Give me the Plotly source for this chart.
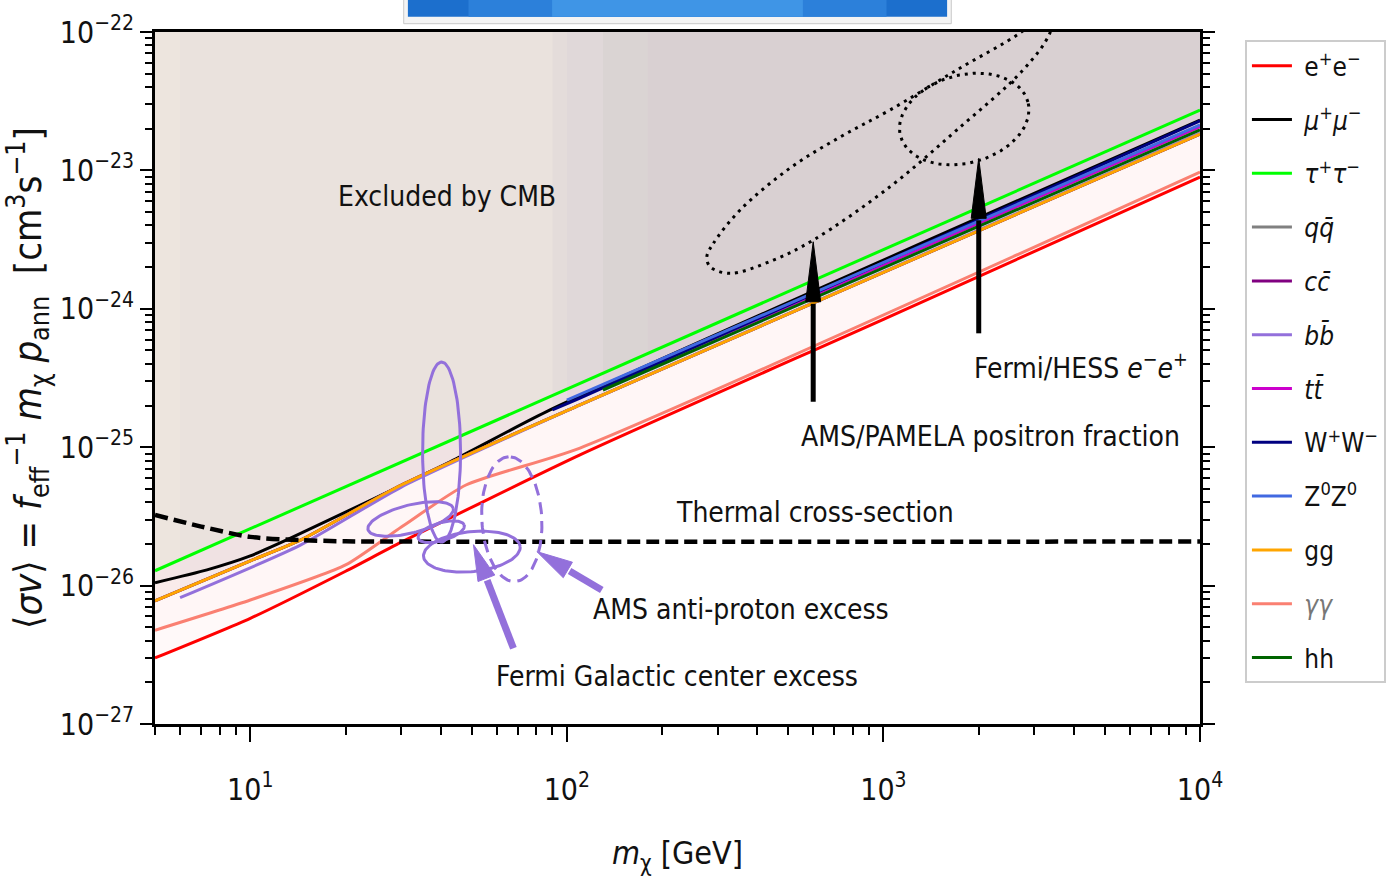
import math
import plotly.graph_objects as go

# ---------------- data (mass in GeV, <sigma v> in cm^3 s^-1) ----------------
ee_m = [5, 10, 20, 30, 110, 1000, 10000]
ee_v = [3.0e-27, 5.8e-27, 1.27e-26, 2.06e-26, 8.8e-26, 8.4e-25, 8.96e-24]

mumu_m = [5, 7.3, 10, 13.4, 42.8, 88.5, 10000]
mumu_v = [1.05e-26, 1.30e-26, 1.64e-26, 2.20e-26, 7.85e-26, 1.86e-25, 2.31e-23]

tautau_m = [5, 10000]
tautau_v = [1.28e-26, 2.73e-23]

qq_m = [5, 10, 14.4, 30, 110, 10000]
qq_v = [7.75e-27, 1.51e-26, 2.13e-26, 5.33e-26, 2.02e-25, 1.83e-23]

cc_m = [5, 10, 14.4, 30, 110, 10000]
cc_v = [7.75e-27, 1.51e-26, 2.13e-26, 5.33e-26, 2.02e-25, 1.83e-23]

bb_m = [6, 14.4, 30, 110, 10000]
bb_v = [8.18e-27, 1.96e-26, 5.15e-26, 2.02e-25, 1.86e-23]

tt_m = [180, 10000]
tt_v = [3.75e-25, 2.07e-23]

ww_m = [90, 110, 10000]
ww_v = [1.86e-25, 2.26e-25, 2.28e-23]

zz_m = [100, 10000]
zz_v = [2.19e-25, 2.13e-23]

gg_m = [5, 10, 14.4, 30, 110, 10000]
gg_v = [7.75e-27, 1.51e-26, 2.13e-26, 5.33e-26, 2.02e-25, 1.83e-23]

aa_m = [5, 10, 20, 30, 48, 110, 10000]
aa_v = [4.76e-27, 7.87e-27, 1.41e-26, 2.65e-26, 5.33e-26, 9.86e-26, 9.72e-24]

hh_m = [130, 10000]
hh_v = [2.59e-25, 1.96e-23]

thermal_m = [5, 7, 10, 14.4, 20, 30, 10000]
thermal_v = [3.24e-26, 2.67e-26, 2.25e-26, 2.13e-26, 2.09e-26, 2.08e-26, 2.08e-26]

channel_names = ["e<sup>+</sup>e<sup>−</sup>",
                 "<i>μ</i><sup>+</sup><i>μ</i><sup>−</sup>",
                 "<i>τ</i><sup>+</sup><i>τ</i><sup>−</sup>",
                 "<i>q</i><i>q̄</i>",
                 "<i>c</i><i>c̄</i>",
                 "<i>b</i><i>b̄</i>",
                 "<i>t</i><i>t̄</i>",
                 "W<sup>+</sup>W<sup>−</sup>",
                 "Z<sup>0</sup>Z<sup>0</sup>",
                 "gg",
                 "<span style='color:#777'><i>γγ</i></span>",
                 "hh"]
channel_colors = ["#ff0000", "#000000", "#00ff00", "#808080", "#800080", "#9370db",
                  "#cc00cc", "#000080", "#4169e1", "#ffa500", "#fa8072", "#006400"]
channel_m = [ee_m, mumu_m, tautau_m, qq_m, cc_m, bb_m, tt_m, ww_m, zz_m, gg_m, aa_m, hh_m]
channel_v = [ee_v, mumu_v, tautau_v, qq_v, cc_v, bb_v, tt_v, ww_v, zz_v, gg_v, aa_v, hh_v]

# Fermi GC excess regions (solid) and AMS antiproton (dashed): centre mass, centre <sv>,
# semi-axes (screen px), tilt (deg)
gc_ell_m = [40.2, 32.1, 40.1, 50.1]
gc_ell_v = [9.23e-26, 3.03e-26, 2.45e-26, 1.76e-26]
gc_ell_a = [19, 44, 24, 48.6]
gc_ell_b = [90, 14, 9, 20]
gc_ell_ang = [0, 14, 16, 6]

pbar_ell = (67.0, 3.02e-26, 62.5, 30, 93)

# Fermi/HESS e-e+ region (ellipse) and AMS/PAMELA positron fraction region (contour points)
hess_ell = (1800, 2.35e-23, 66, 44, 15)
pam_m = [276.8, 290.4, 352.6, 507.3, 729.5, 1049, 1704, 2700, 3483,
         3357, 2759, 1704, 1049, 600.6, 449.2, 327.8, 283.5, 276.8]
pam_v = [2.378e-24, 2.973e-24, 5.175e-24, 1.041e-23, 1.742e-23, 2.732e-23, 5.314e-23, 9.83e-23, 1.57e-22,
         9.83e-23, 5.31e-23, 1.958e-23, 7.62e-24, 3.14e-24, 2.25e-24, 1.805e-24, 2.014e-24, 2.378e-24]

# ---------------- geometry helpers ----------------
PXX = 316.7   # px per decade in x
PXY = 138.4   # px per decade in y
YTOP = 1e-22


def ellipse(mc, vc, a, b, ang, n=120):
    th = math.radians(ang)
    xs, ys = [], []
    for i in range(n + 1):
        t = 2 * math.pi * i / n
        dx = a * math.cos(t) * math.cos(th) - b * math.sin(t) * math.sin(th)
        dy = a * math.cos(t) * math.sin(th) + b * math.sin(t) * math.cos(th)
        xs.append(mc * 10 ** (dx / PXX))
        ys.append(vc * 10 ** (dy / PXY))
    return xs, ys


def arrow(tip, tail, head_len, head_half):
    tx, ty = math.log10(tip[0]) * PXX, math.log10(tip[1]) * PXY
    sx, sy = math.log10(tail[0]) * PXX, math.log10(tail[1]) * PXY
    L = math.hypot(sx - tx, sy - ty)
    ux, uy = (sx - tx) / L, (sy - ty) / L
    nx, ny = -uy, ux
    bx, by = tx + ux * head_len, ty + uy * head_len
    f = lambda px, py: (10 ** (px / PXX), 10 ** (py / PXY))
    base = f(bx + ux * 2, by + uy * 2)
    p1 = f(bx + nx * head_half, by + ny * head_half)
    p2 = f(bx - nx * head_half, by - ny * head_half)
    shaft = ([tail[0], base[0]], [tail[1], base[1]])
    head = ([tip[0], p1[0], p2[0], tip[0]], [tip[1], p1[1], p2[1], tip[1]])
    return shaft, head


def rgba(hexc, a):
    h = hexc.lstrip("#")
    return "rgba(%d,%d,%d,%.3f)" % (int(h[0:2], 16), int(h[2:4], 16), int(h[4:6], 16), a)


FONT = "DejaVu Sans Condensed, DejaVu Sans, sans-serif"
fig = go.Figure()

# exclusion fills (stacked, translucent)
for m, v, c in zip(channel_m, channel_v, channel_colors):
    fig.add_trace(go.Scatter(x=m + m[::-1], y=v + [YTOP] * len(m), fill="toself",
                             fillcolor=rgba(c, 0.022), line=dict(width=0), mode="lines",
                             showlegend=False, hoverinfo="skip"))

# channel lines
for name, m, v, c in zip(channel_names, channel_m, channel_v, channel_colors):
    fig.add_trace(go.Scatter(x=m, y=v, mode="lines", name="\u00a0" + name, legendgroup=name,
                             line=dict(color=c, width=3, shape="spline", smoothing=0.6)))

# thermal cross-section
fig.add_trace(go.Scatter(x=thermal_m, y=thermal_v, mode="lines", showlegend=False,
                         line=dict(color="black", width=4.5, dash="13px,6px",
                                   shape="spline", smoothing=0.8)))

# Fermi GC ellipses
PURPLE = "#9370db"
for mc, vc, a, b, ang in zip(gc_ell_m, gc_ell_v, gc_ell_a, gc_ell_b, gc_ell_ang):
    ex, ey = ellipse(mc, vc, a, b, ang)
    fig.add_trace(go.Scatter(x=ex, y=ey, mode="lines", showlegend=False,
                             line=dict(color=PURPLE, width=3)))
ex, ey = ellipse(*pbar_ell)
fig.add_trace(go.Scatter(x=ex, y=ey, mode="lines", showlegend=False,
                         line=dict(color=PURPLE, width=3, dash="12px,7px")))

# dotted positron regions
ex, ey = ellipse(*hess_ell)
fig.add_trace(go.Scatter(x=ex, y=ey, mode="lines", showlegend=False,
                         line=dict(color="black", width=3, dash="3px,5px")))
fig.add_trace(go.Scatter(x=pam_m, y=pam_v, mode="lines", showlegend=False,
                         line=dict(color="black", width=3, dash="3px,5px", shape="spline")))

# arrows: (tip, tail, colour, shaft width, head length px, head half-width px)
arrows = [((600, 3.05e-24), (600, 2.13e-25), "black", 5, 60, 7.5),
          ((2000, 1.223e-23), (2000, 6.65e-25), "black", 5, 60, 7.5),
          ((80.4, 1.76e-26), (128.9, 9.29e-27), PURPLE, 7, 36, 9),
          ((50.7, 1.975e-26), (67.8, 3.52e-27), PURPLE, 7, 36, 9)]
for tip, tail, col, w, hl, hw in arrows:
    shaft, head = arrow(tip, tail, hl, hw)
    fig.add_trace(go.Scatter(x=shaft[0], y=shaft[1], mode="lines", showlegend=False,
                             line=dict(color=col, width=w)))
    fig.add_trace(go.Scatter(x=head[0], y=head[1], mode="lines", fill="toself", fillcolor=col,
                             showlegend=False, line=dict(color=col, width=1)))

# text annotations (x, y in log10 units)
TXT = dict(size=28, color="#111", family=FONT)
notes = [("Excluded by CMB", 1.622, -23.19, "center"),
         ("Fermi/HESS <i>e</i><sup>−</sup><i>e</i><sup>+</sup>", 3.968, -24.42, "right"),
         ("AMS/PAMELA positron fraction", 3.943, -24.92, "right"),
         ("Thermal cross-section", 2.784, -25.475, "center"),
         ("AMS anti-proton excess", 2.549, -26.176, "center"),
         ("Fermi Galactic center excess", 2.348, -26.66, "center")]
for t, x, y, anc in notes:
    fig.add_annotation(text=t, x=x, y=y, xref="x", yref="y", showarrow=False,
                       xanchor=anc, yanchor="middle", font=TXT)

# header strip at the top of the picture
fig.add_shape(type="rect", xref="paper", yref="paper", x0=0.238, x1=0.762, y0=1.012, y1=1.05,
              fillcolor="#f4f4f4", line=dict(color="#c8c8c8", width=1), layer="above")
fig.add_shape(type="rect", xref="paper", yref="paper", x0=0.242, x1=0.758, y0=1.022, y1=1.05,
              fillcolor="#1c6fcd", line=dict(width=0), layer="above")
fig.add_shape(type="rect", xref="paper", yref="paper", x0=0.30, x1=0.70, y0=1.022, y1=1.05,
              fillcolor="#2c80da", line=dict(width=0), layer="above")
fig.add_shape(type="rect", xref="paper", yref="paper", x0=0.38, x1=0.62, y0=1.022, y1=1.05,
              fillcolor="#3f95e6", line=dict(width=0), layer="above")

xt = [10, 100, 1000, 10000]
xtt = ["10<sup>1</sup>", "10<sup>2</sup>", "10<sup>3</sup>", "10<sup>4</sup>"]
yt = [1e-27, 1e-26, 1e-25, 1e-24, 1e-23, 1e-22]
ytt = ["10<sup>−27</sup>", "10<sup>−26</sup>", "10<sup>−25</sup>", "10<sup>−24</sup>",
       "10<sup>−23</sup>", "10<sup>−22</sup>"]
xminor = [k * 10 ** e for e in range(0, 4) for k in range(2, 10) if 5 <= k * 10 ** e <= 10000]
yminor = [k * 10.0 ** e for e in range(-27, -22) for k in range(2, 10)]

fig.update_layout(
    width=1389, height=882,
    margin=dict(l=155, r=189, t=32, b=158, autoexpand=False),
    paper_bgcolor="white", plot_bgcolor="white",
    font=dict(family=FONT, size=26, color="#111"),
    legend=dict(x=1.043, y=0.988, xanchor="left", yanchor="top",
                bgcolor="white", bordercolor="#cccccc", borderwidth=2,
                font=dict(size=26, family=FONT, color="#111"),
                tracegroupgap=17, itemwidth=40),
    xaxis=dict(type="log", range=[math.log10(5), 4], showgrid=False, zeroline=False,
               showline=True, linecolor="black", linewidth=3, mirror=True,
               ticks="outside", ticklen=15, tickwidth=2, tickcolor="black",
               tickvals=xt, ticktext=xtt, tickfont=dict(size=30, family=FONT),
               ticklabelstandoff=22,
               minor=dict(ticks="outside", ticklen=8, tickwidth=1.5, tickcolor="black",
                          tickvals=xminor, showgrid=False),
               title=dict(text="<i>m</i><sub>χ</sub> [GeV]", standoff=36,
                          font=dict(size=32, family=FONT))),
    yaxis=dict(type="log", range=[-27, -22], showgrid=False, zeroline=False,
               showline=True, linecolor="black", linewidth=3, mirror="ticks",
               ticks="outside", ticklen=12, tickwidth=2, tickcolor="black",
               tickvals=yt, ticktext=ytt, tickfont=dict(size=30, family=FONT),
               minor=dict(ticks="outside", ticklen=7, tickwidth=1.5, tickcolor="black",
                          tickvals=yminor, showgrid=False),
               title=dict(text="⟨<i>σv</i>⟩ = <i>f</i><sub>eff</sub><sup>−1</sup> <i>m</i><sub>χ</sub> "
                               "<i>p</i><sub>ann</sub>  [cm<sup>3</sup>s<sup>−1</sup>]",
                          standoff=8, font=dict(size=38, family=FONT))),
)

fig.write_html("out.html")
